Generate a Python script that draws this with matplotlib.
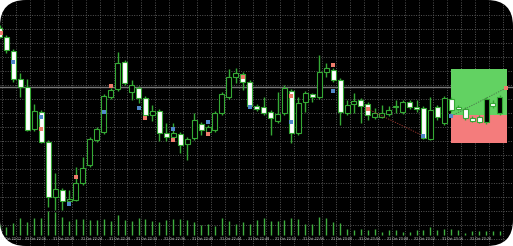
import matplotlib
matplotlib.use("Agg")
import matplotlib.pyplot as plt
from matplotlib.patches import FancyBboxPatch, Rectangle

W, H, DPI = 513, 246, 100

# 1-minute candles, prices in points
opens = [222, 213, 199, 171, 163, 121, 138, 108, 53, 60, 49, 50, 67, 85, 110, 118,
         153, 161, 188, 158, 162, 152, 135, 139, 117, 113, 116, 106, 112, 126, 118, 120,
         137, 153, 173, 176, 168, 144, 143, 138, 129, 137, 159, 117, 148, 156, 153, 178,
         180, 170, 137, 146, 150, 146, 133, 133, 136, 143, 138, 148, 143, 142, 111, 143,
         127, 151, 143, 141, 132, 133, 128, 147, 137]
closes = [213, 200, 171, 163, 120, 139, 108, 53, 61, 49, 51, 67, 82, 111, 121, 154,
          160, 187, 167, 165, 152, 135, 139, 117, 113, 117, 105, 111, 130, 120, 123, 137,
          156, 173, 177, 168, 144, 141, 137, 132, 136, 162, 117, 147, 157, 153, 178, 182,
          170, 138, 145, 149, 144, 135, 137, 137, 140, 144, 148, 143, 141, 112, 140, 133,
          152, 140, 141.5, 132, 129, 128, 151, 144, 153]
highs = [225, 215, 201, 177, 171, 146, 140, 110, 77, 62, 60, 83, 93, 113, 123, 156,
         162, 198, 190, 170, 164, 154, 145, 141, 127, 127, 118, 113, 137, 128, 125, 139,
         158, 181, 182, 178, 170, 146, 153, 140, 158, 165, 161, 153, 159, 157, 195, 187,
         182, 172, 150, 157, 152, 148, 142, 145, 144, 150, 150, 150, 150, 144, 153, 145,
         154, 153, 145, 143, 134, 135, 153, 150, 155]
lows = [212, 197, 168, 153, 119, 119, 107, 43, 40, 40, 45, 49, 65, 83, 108, 116,
        151, 159, 165, 150, 147, 133, 129, 109, 109, 111, 97, 90, 110, 115, 116, 118,
        135, 151, 167, 160, 142, 139, 135, 115, 127, 135, 107, 115, 138, 148, 151, 173,
        168, 125, 135, 137, 127, 130, 131, 132, 134, 137, 136, 141, 138, 111, 110, 130,
        125, 138, 140, 130, 128, 127, 126, 142, 135]
volumes = [100, 80, 120, 170, 130, 170, 170, 240, 230, 180, 140, 160, 160, 150, 150, 160,
           140, 200, 150, 140, 170, 160, 140, 130, 150, 160, 160, 150, 130, 100, 110, 90,
           170, 140, 110, 130, 110, 150, 170, 140, 140, 150, 170, 160, 110, 110, 180, 170,
           130, 120, 60, 50, 60, 50, 60, 30, 50, 50, 30, 30, 50, 50, 80, 50,
           65, 65, 55, 25, 45, 40, 45, 45, 45]

# time labels every 4 minutes, first bar is 22:12
label_bars = list(range(0, 69, 4))
label_text = ["31 Oct %02d:%02d" % divmod(22 * 60 + 12 + b, 60) for b in label_bars]

# trade arrows (bar index, price)
sell_marks = [(0.2, 217), (6, 121), (11, 73), (16, 164), (21, 132), (25, 110), (30, 116),
              (35, 173), (42, 154), (48, 185), (53, 141), (72.9, 162)]
buy_marks = [(2, 188), (6, 133), (10, 46), (15, 138), (20, 142), (25, 121), (30, 128),
             (36, 143), (42, 128), (48, 159), (61, 114), (65, 134)]

# position box on the right: take profit / stop loss
box_bars = (64.95, 73.0)
entry_price, tp_price, sl_price = 135, 181, 107
bid_price = 163

EDGE = "#35a935"
GRID = "#575757"

fig = plt.figure(figsize=(W / DPI, H / DPI), dpi=DPI)
fig.patch.set_facecolor("white")
ax = fig.add_axes([0, 0, 1, 1])
ax.set_facecolor("none")
ax.set_xlim(0.065, 73.88)
ax.set_ylim(4, 250)
ax.axis("off")

frame = FancyBboxPatch((0, 0), W / DPI, H / DPI, boxstyle="round,pad=0,rounding_size=0.26",
                       transform=fig.dpi_scale_trans, facecolor="black", edgecolor="none",
                       zorder=0)
ax.add_patch(frame)

# grid
for b in range(0, 74, 2):
    ax.axvline(b + 0.4, color=GRID, lw=0.7, ls=(0, (1, 1.5)), zorder=1)
for p in range(236, 0, -14):
    ax.axhline(p - 0.5, color=GRID, lw=0.7, ls=(0, (1, 1.5)), zorder=1)
ax.axhline(bid_price, color="#777777", lw=1.0, zorder=1.5)

# position box
x0, x1 = box_bars
ax.add_patch(Rectangle((x0, entry_price), x1 - x0, tp_price - entry_price,
                       facecolor="#62d262", edgecolor="none", zorder=2))
ax.add_patch(Rectangle((x0, sl_price), x1 - x0, entry_price - sl_price,
                       facecolor="#f47c7c", edgecolor="none", zorder=2))

# candles
body_w = 0.72
for i, (o, c, h, l) in enumerate(zip(opens, closes, highs, lows)):
    ax.vlines(i, l, h, color=EDGE, lw=1.0, zorder=3)
    face = "white" if c < o else "black"
    ax.add_patch(Rectangle((i - body_w / 2, min(o, c)), body_w, max(abs(c - o), 0.8),
                           facecolor=face, edgecolor=EDGE, lw=0.8, zorder=4))

# trade lines
ax.plot([53, 61], [141, 114], color="#a83a32", lw=0.6, ls=(0, (1.5, 1.5)), zorder=5)
ax.plot([65, 72.9], [134, 162], color="#4a6e4a", lw=0.6, ls=(0, (1.5, 1.5)), zorder=5)

sx, sy = zip(*sell_marks)
bx, by = zip(*buy_marks)
ax.plot(sx, sy, "s", ms=2.7, color="#ee7c6c", mew=0, zorder=6)
ax.plot(bx, by, "s", ms=2.7, color="#5088c8", mew=0, zorder=6)

# volume overlay along the bottom
vax = ax.twinx()
vax.set_ylim(-110, 2350)
vax.axis("off")
vax.vlines(range(len(volumes)), 0, volumes, color="#3fae3f", lw=1.0, zorder=3)

for b, t in zip(label_bars, label_text):
    ax.text(max(b - 0.3, 0.1), 10.5, t, fontsize=2.3, color="#e0e0e0", ha="left",
            va="center", zorder=7)

for a in (ax, vax):
    for art in a.get_children():
        if art is not frame:
            art.set_clip_path(frame)

fig.savefig("out.png", dpi=DPI, facecolor=fig.get_facecolor())
